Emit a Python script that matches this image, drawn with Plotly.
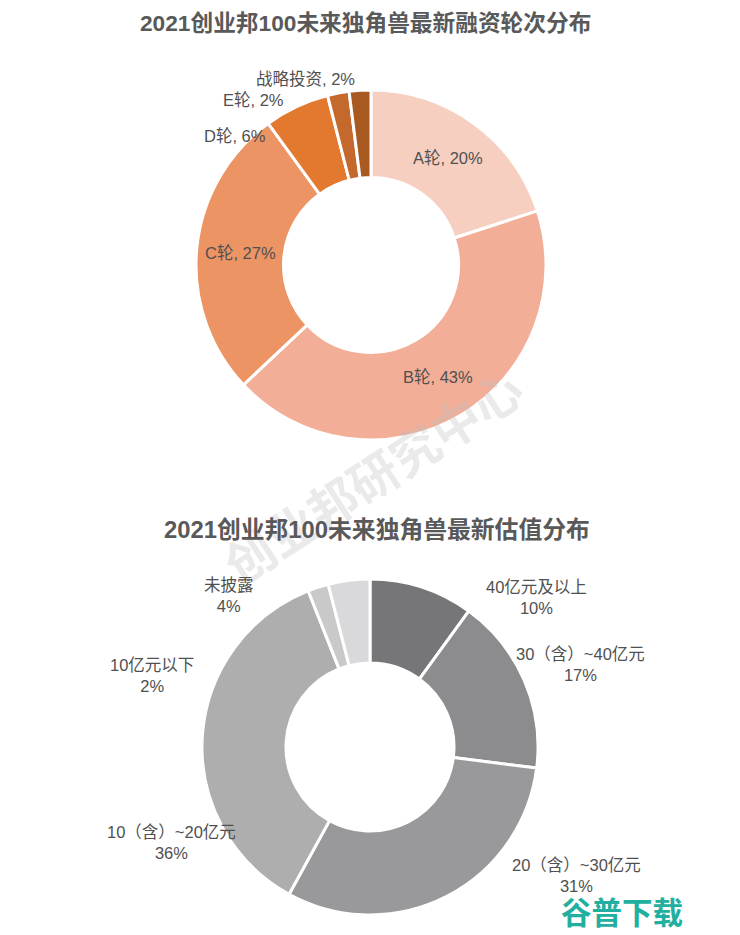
import plotly.graph_objects as go

# The page keeps an 8px body margin, so the figure is drawn that much smaller
PAGE_MARGIN = 8
W, H = 740 - PAGE_MARGIN, 935 - PAGE_MARGIN

# Data ==========================================================================
round_names = ["A轮", "B轮", "C轮", "D轮", "E轮", "战略投资"]
round_values = [20, 43, 27, 6, 2, 2]
round_colors = ["#F6CFC0", "#F2AE97", "#EC9464", "#E3782F", "#C4692B", "#A85A20"]

valuation_names = ["40亿元及以上", "30（含）~40亿元", "20（含）~30亿元",
                   "10（含）~20亿元", "10亿元以下", "未披露"]
valuation_values = [10, 17, 31, 36, 2, 4]
valuation_colors = ["#767678", "#8C8B8D", "#99999B", "#AEAEAE", "#C9C9C9", "#D9D9DB"]

title_top = "2021创业邦100未来独角兽最新融资轮次分布"
title_bottom = "2021创业邦100未来独角兽最新估值分布"
watermark = "创业邦研究中心"
logo = "谷普下载"

# Layout in pixels of the reference - - - - - - - - - - - - - - - - - - - - - - - -
FONT = "Liberation Sans, Noto Sans CJK SC, sans-serif"
TEXT_COLOR = "#505050"
round_label_pos = [(448, 158), (438, 377), (240, 253), (235, 136), (253, 100), (305, 79)]
valuation_label_pos = [(536, 597), (580, 664), (576, 875), (171, 842), (152, 675), (229, 595)]


def domain(cx, cy, r):
    cx, cy = cx - PAGE_MARGIN, cy - PAGE_MARGIN
    return {"x": [(cx - r) / W, (cx + r) / W],
            "y": [1 - (cy + r) / H, 1 - (cy - r) / H]}


def add_text(fig, text, x, y, size=16.5, color=TEXT_COLOR, **kwargs):
    fig.add_annotation(text=text, x=(x - PAGE_MARGIN) / W, y=1 - (y - PAGE_MARGIN) / H,
                       xref="paper", yref="paper", showarrow=False,
                       xanchor="center", yanchor="middle",
                       font={"size": size, "color": color, "family": FONT}, **kwargs)


def add_donut(fig, names, values, colors, cx, cy, r):
    fig.add_trace(go.Pie(labels=names, values=values, sort=False, direction="clockwise",
                         rotation=0, hole=0.5, textinfo="none", showlegend=False,
                         marker={"colors": colors, "line": {"color": "white", "width": 3}},
                         domain=domain(cx, cy, r)))


fig = go.Figure()
add_donut(fig, round_names, round_values, round_colors, 371, 265, 175)
add_donut(fig, valuation_names, valuation_values, valuation_colors, 370, 747, 168)

# Watermark sits under the rest of the text
add_text(fig, f"<b>{watermark}</b>", 375, 478, size=49,
         color="rgba(190,190,195,0.33)", textangle=-33)

add_text(fig, f"<b>{title_top}</b>", 365, 23, size=22.7, color="#595959")
add_text(fig, f"<b>{title_bottom}</b>", 377, 529, size=23.8, color="#595959")

for name, value, (x, y) in zip(round_names, round_values, round_label_pos):
    add_text(fig, f"{name}, {value}%", x, y)

for name, value, (x, y) in zip(valuation_names, valuation_values, valuation_label_pos):
    add_text(fig, f"{name}<br>{value}%", x, y)

add_text(fig, f"<b>{logo}</b>", 622, 913, size=30.5, color="#22AFA0")

fig.update_layout(width=W, height=H, margin={"l": 0, "r": 0, "t": 0, "b": 0},
                  paper_bgcolor="white", plot_bgcolor="white")

fig.write_html("out.html", config={"displayModeBar": False})
